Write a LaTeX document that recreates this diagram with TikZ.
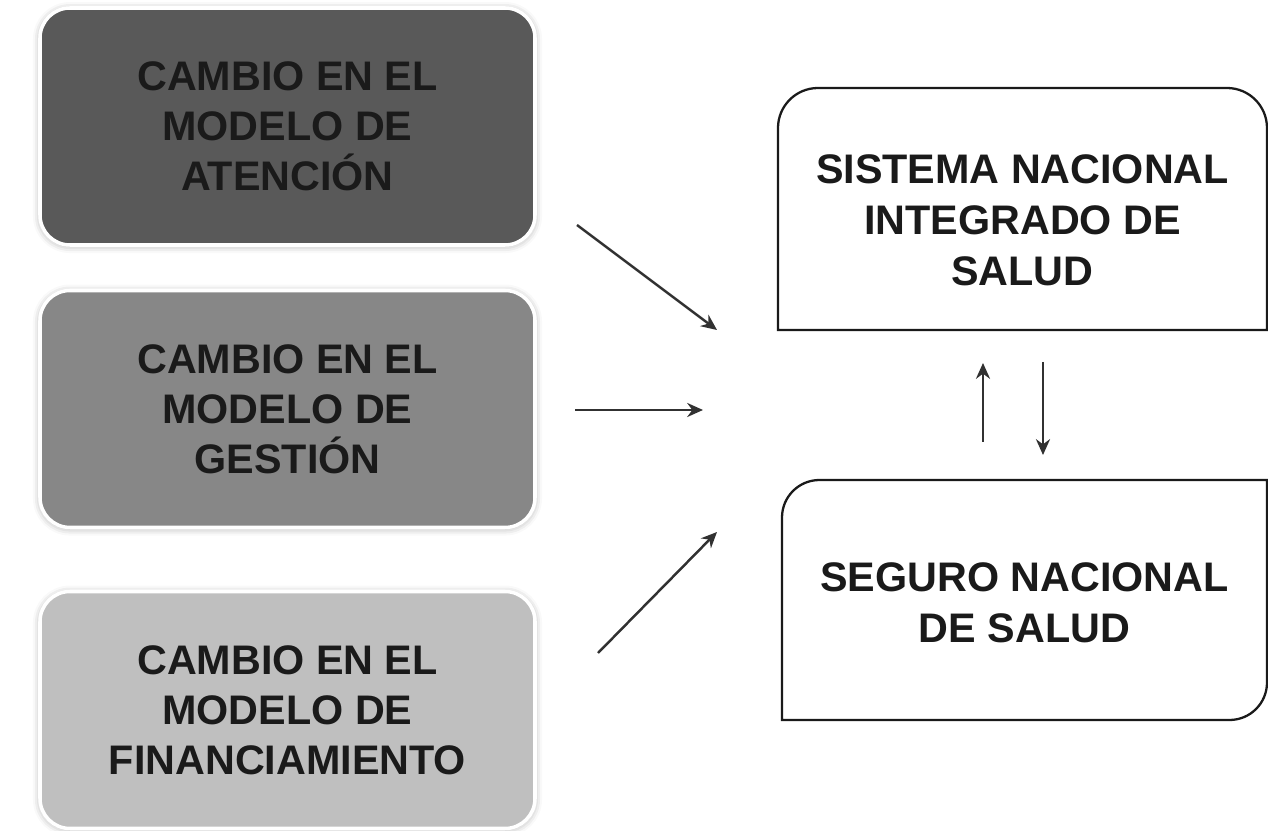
\documentclass[tikz,border=0pt]{standalone}
\usepackage{fontspec}
\setmainfont{Liberation Sans}
\usepackage{tikz}
\usetikzlibrary{positioning, arrows.meta, shadows.blur}

\definecolor{atencionfill}{HTML}{595959}
\definecolor{gestionfill}{HTML}{878787}
\definecolor{financfill}{HTML}{BFBFBF}
\definecolor{inkdark}{HTML}{1A1A1A}

\tikzset{
  lbox/.style={rectangle, rounded corners=0.6cm, draw=white, line width=2pt,
    minimum width=9.9cm, minimum height=4.74cm, align=center,
    font=\fontsize{23.5}{28.5}\selectfont\bfseries, text=inkdark,
    blur shadow={shadow xshift=0pt, shadow yshift=-0.6pt,
      shadow blur radius=4pt, shadow opacity=35}},
  rbox/.style={rectangle, draw=none, outer sep=0pt},
  rtext/.style={align=center, font=\fontsize{23.5}{29}\selectfont\bfseries, text=inkdark},
  rline/.style={draw=inkdark, line width=1.3pt},
  flow/.style={draw=inkdark!90, line width=1.4pt, -{Stealth[length=9pt, width=8pt]}}
}

\begin{document}
\begin{tikzpicture}[scale=1.0]
\useasboundingbox (0,0) rectangle (25.36,16.62);

% left column
\node[lbox, fill=atencionfill] (atencion) at (5.75,14.09) {CAMBIO EN EL\\MODELO DE\\ATENCIÓN};
\node[lbox, fill=gestionfill] (gestion) at (5.75,8.44) {CAMBIO EN EL\\MODELO DE\\GESTIÓN};
\node[lbox, fill=financfill] (financ) at (5.75,2.42) {CAMBIO EN EL\\MODELO DE\\FINANCIAMIENTO};

% right column
\node[rbox, minimum width=9.78cm, minimum height=4.84cm] (sistema) at (20.45,12.44) {};
\node[rtext] (sistematxt) at (20.45,12.22) {SISTEMA NACIONAL\\INTEGRADO DE\\SALUD};
\node[rbox, minimum width=9.70cm, minimum height=4.80cm] (seguro) at (20.49,4.62) {};
\node[rtext] (segurotxt) at (20.49,4.56) {SEGURO NACIONAL\\DE SALUD};

\draw[rline] (sistema.south west) -- ([yshift=-0.8cm]sistema.north west)
  arc[start angle=180, end angle=90, radius=0.8cm] -- ([xshift=-0.8cm]sistema.north east)
  arc[start angle=90, end angle=0, radius=0.8cm] -- (sistema.south east) -- cycle;
\draw[rline] (seguro.north east) -- ([xshift=0.75cm]seguro.north west)
  arc[start angle=90, end angle=180, radius=0.75cm] -- (seguro.south west)
  -- ([xshift=-0.75cm]seguro.south east)
  arc[start angle=270, end angle=360, radius=0.75cm] -- cycle;

% arrow ends
\coordinate (a1s) at (11.54,12.12);
\coordinate (a1e) at (14.34,10.02);
\coordinate (a2s) at (11.50,8.42);
\coordinate (a2e) at (14.06,8.42);
\coordinate (a3s) at (11.96,3.56);
\coordinate (a3e) at (14.34,5.98);
\coordinate (ups) at (19.66,7.78);
\coordinate (upe) at (19.66,9.36);
\coordinate (dns) at (20.86,9.38);
\coordinate (dne) at (20.86,7.52);

\draw[flow] (a1s) -- (a1e);
\draw[flow] (a2s) -- (a2e);
\draw[flow] (a3s) -- (a3e);
\draw[flow] (ups) -- (upe);
\draw[flow] (dns) -- (dne);
\end{tikzpicture}
\end{document}
